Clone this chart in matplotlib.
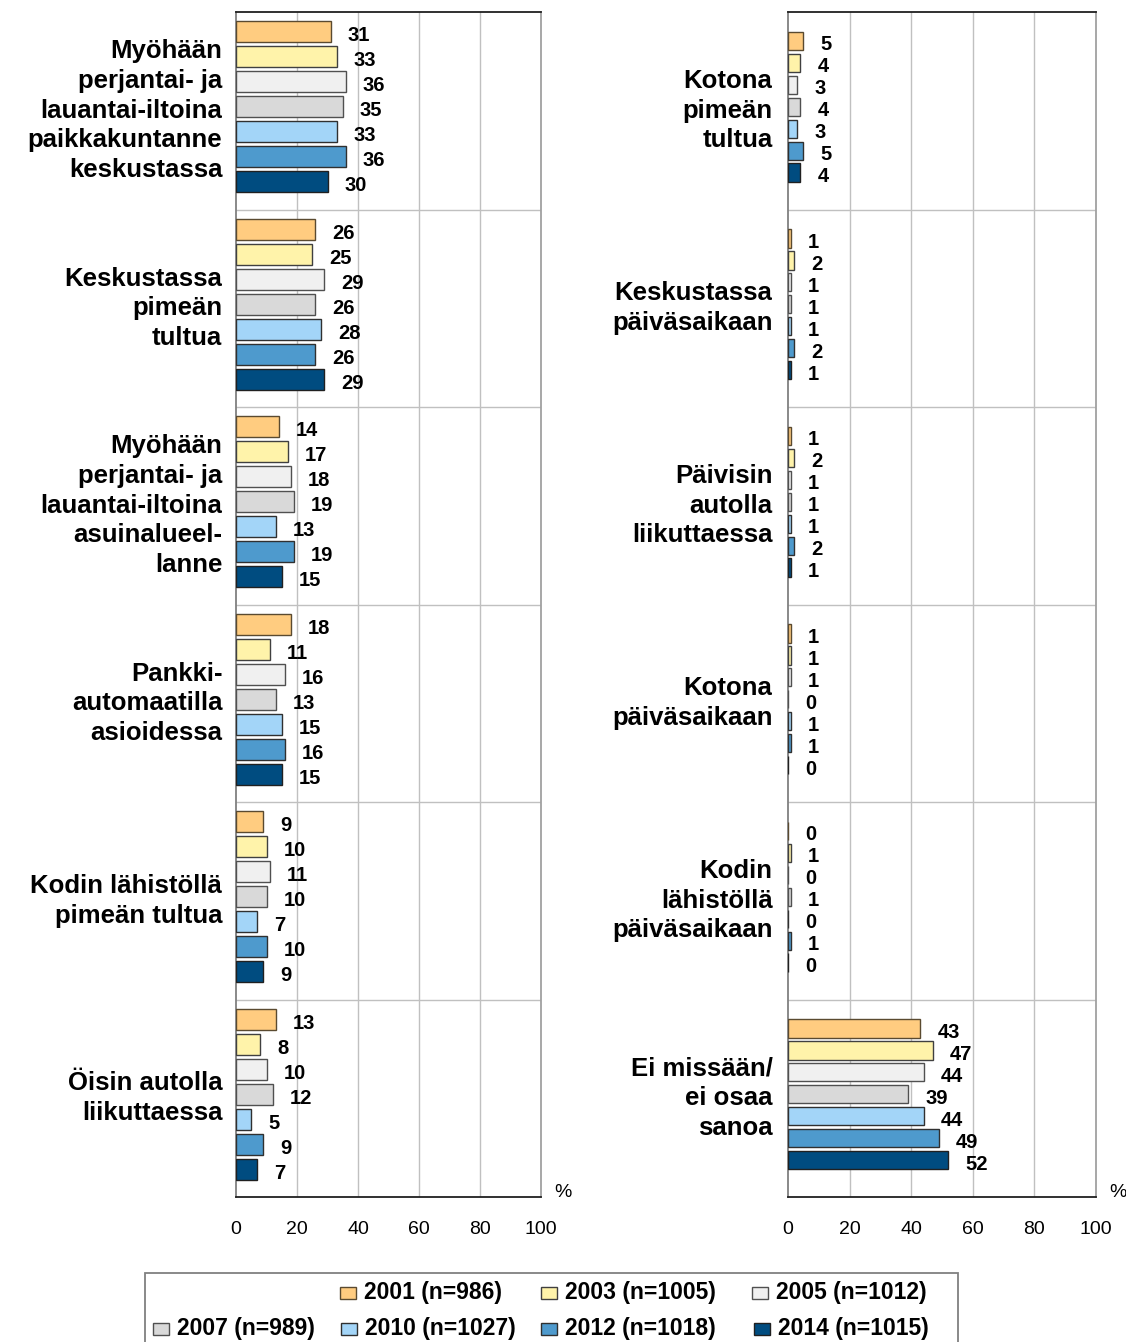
import matplotlib
matplotlib.use("Agg")
import matplotlib.pyplot as plt
from matplotlib.patches import Rectangle
import numpy as np

plt.rcParams['font.family'] = ['Liberation Sans', 'DejaVu Sans']

years = ["2001 (n=986)", "2003 (n=1005)", "2005 (n=1012)", "2007 (n=989)",
         "2010 (n=1027)", "2012 (n=1018)", "2014 (n=1015)"]
colors = ["#FFCC80", "#FFF3AA", "#F0F0F0", "#D9D9D9", "#A3D5F8", "#4E9ACD", "#004C80"]
edges = ["#5A4A30", "#404040", "#505050", "#505050", "#303030", "#303030", "#202020"]

left_cats = ["Myöhään\nperjantai- ja\nlauantai-iltoina\npaikkakuntanne\nkeskustassa",
             "Keskustassa\npimeän\ntultua",
             "Myöhään\nperjantai- ja\nlauantai-iltoina\nasuinalueel-\nlanne",
             "Pankki-\nautomaatilla\nasioidessa",
             "Kodin lähistöllä\npimeän tultua",
             "Öisin autolla\nliikuttaessa"]
left_vals = [[31, 33, 36, 35, 33, 36, 30],
             [26, 25, 29, 26, 28, 26, 29],
             [14, 17, 18, 19, 13, 19, 15],
             [18, 11, 16, 13, 15, 16, 15],
             [9, 10, 11, 10, 7, 10, 9],
             [13, 8, 10, 12, 5, 9, 7]]

right_cats = ["Kotona\npimeän\ntultua",
              "Keskustassa\npäiväsaikaan",
              "Päivisin\nautolla\nliikuttaessa",
              "Kotona\npäiväsaikaan",
              "Kodin\nlähistöllä\npäiväsaikaan",
              "Ei missään/\nei osaa\nsanoa"]
right_vals = [[5, 4, 3, 4, 3, 5, 4],
              [1, 2, 1, 1, 1, 2, 1],
              [1, 2, 1, 1, 1, 2, 1],
              [1, 1, 1, 0, 1, 1, 0],
              [0, 1, 0, 1, 0, 1, 0],
              [43, 47, 44, 39, 44, 49, 52]]

W, H = 1126, 1342
fig = plt.figure(figsize=(W / 100, H / 100), dpi=100)


def fx(px):
    return px / W


def fy(py):
    return 1 - py / H


def draw_panel(x0, x1, cats, vals, step, bh, label_x):
    ax = fig.add_axes([fx(x0), fy(1197), fx(x1 - x0), fy(12) - fy(1197)])
    n = len(cats)
    for i, (cat, v) in enumerate(zip(cats, vals)):
        centre = i + 0.5 - 0.02
        ys = centre + (np.arange(7) - 3) * step
        for j in range(7):
            ax.barh(ys[j], v[j], height=bh, color=colors[j], edgecolor=edges[j],
                    linewidth=1.0, zorder=3)
            ax.text(v[j] + 5.5, ys[j] + 0.02, str(v[j]), fontsize=14.5,
                    fontweight='bold', va='center', ha='left', zorder=4)
        ax.text(label_x, i + 0.5, cat, transform=ax.get_yaxis_transform(),
                ha='right', va='center', multialignment='right',
                fontsize=18.5, fontweight='bold', linespacing=1.3)
    ax.set_xlim(0, 100)
    ax.set_ylim(n, 0)
    ax.set_yticks([])
    ax.set_xticks(range(0, 101, 20))
    ax.tick_params(axis='x', length=0, pad=17, labelsize=14)
    for xv in range(20, 100, 20):
        ax.axvline(xv, color="#C0C0C0", lw=1, zorder=1)
    for yv in range(1, n):
        ax.axhline(yv, color="#C0C0C0", lw=1, zorder=1)
    ax.spines['left'].set_color("#808080")
    ax.spines['right'].set_color("#A0A0A0")
    ax.spines['top'].set_color("#202020")
    ax.spines['bottom'].set_color("#202020")
    for s in ax.spines.values():
        s.set_linewidth(1.3)
    ax.text(1 + 22 / (x1 - x0), 0.004, "%", transform=ax.transAxes, fontsize=14,
            ha='center', va='center')
    return ax


draw_panel(236, 541, left_cats, left_vals, 0.1266, 0.105, -0.045)
draw_panel(788, 1096, right_cats, right_vals, 0.111, 0.092, -0.05)

# legend drawn by hand, two rows
fig.patches.append(Rectangle((fx(145), fy(1345)), fx(958 - 145), fy(1273) - fy(1345),
                             transform=fig.transFigure, fill=False,
                             edgecolor="#808080", lw=1.3))
leg_pos = [(340, 1293), (541, 1293), (752, 1293),
           (153, 1329), (341, 1329), (541, 1329), (754, 1329)]
for (lx, ly), lab, c, e in zip(leg_pos, years, colors, edges):
    fig.patches.append(Rectangle((fx(lx), fy(ly + 6)), fx(16), fy(ly - 6) - fy(ly + 6),
                                 transform=fig.transFigure, facecolor=c,
                                 edgecolor=e, lw=1))
    fig.text(fx(lx + 24), fy(ly), lab, fontsize=16.5, fontweight='bold',
             ha='left', va='center')

fig.savefig("out.png", dpi=100, facecolor='white')
